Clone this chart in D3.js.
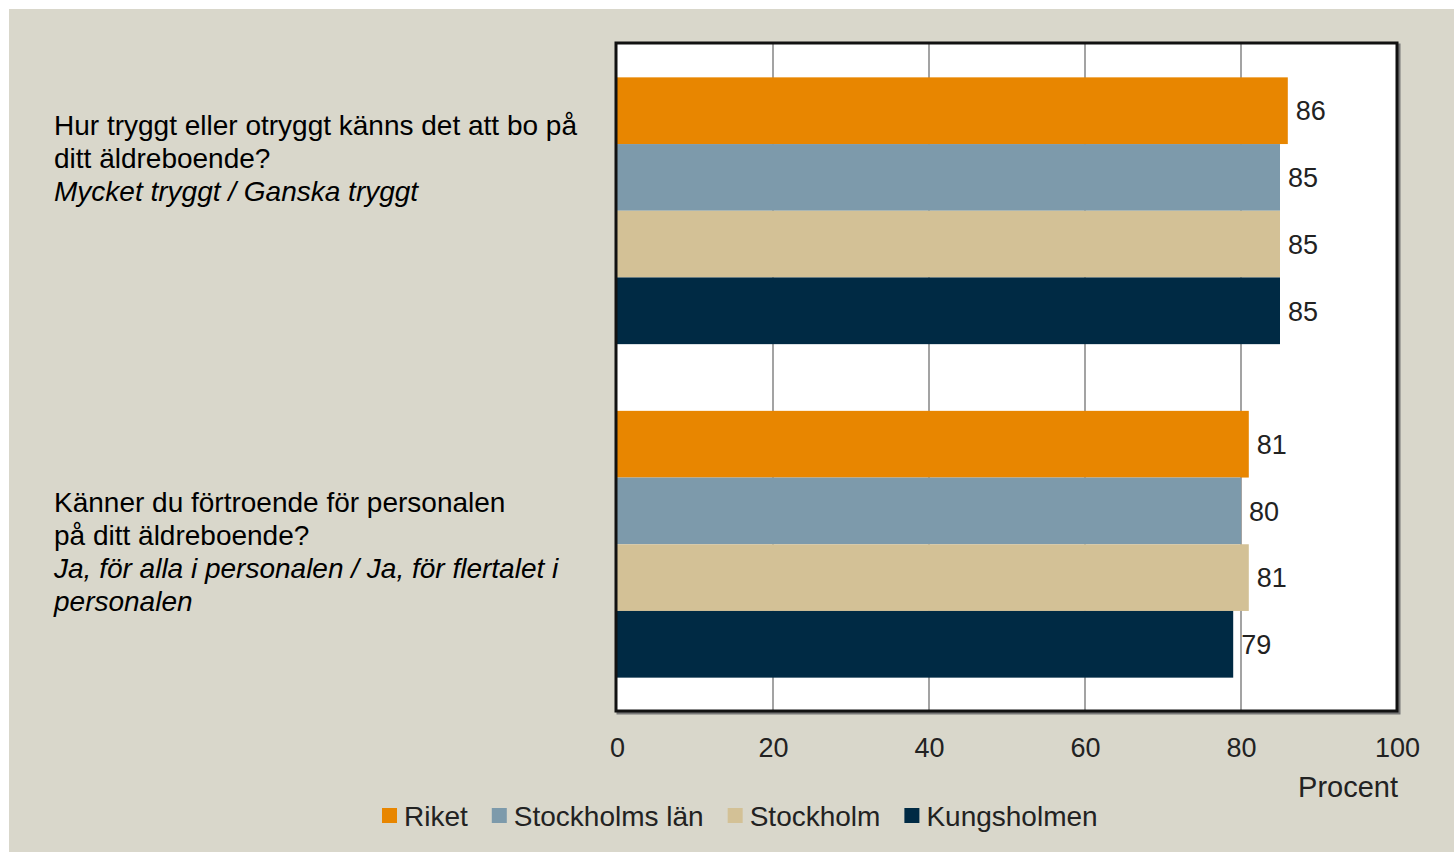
<!DOCTYPE html>
<html>
<head>
<meta charset="utf-8">
<script src="https://cdn.jsdelivr.net/npm/d3@7"></script>
<style>
  html, body { margin: 0; padding: 0; background: #ffffff; }
  svg { display: block; }
</style>
</head>
<body>
<svg id="chart" width="1454" height="852"></svg>
<script>
// ---- data ----
const categories = ["q1", "q2"];
const seriesNames = ["Riket", "Stockholms län", "Stockholm", "Kungsholmen"];
const riket = [86, 81];
const stockholmsLan = [85, 80];
const stockholm = [85, 81];
const kungsholmen = [85, 79];
const xTicks = [0, 20, 40, 60, 80, 100];
const axisTitle = "Procent";
const questionLines = [
  [{t: "Hur tryggt eller otryggt känns det att bo på", i: false},
   {t: "ditt äldreboende?", i: false},
   {t: "Mycket tryggt / Ganska tryggt", i: true}],
  [{t: "Känner du förtroende för personalen", i: false},
   {t: "på ditt äldreboende?", i: false},
   {t: "Ja, för alla i personalen / Ja, för flertalet i", i: true},
   {t: "personalen", i: true}]
];
const colors = ["#e88600", "#7d9aab", "#d3c196", "#002a44"];

const seriesValues = [riket, stockholmsLan, stockholm, kungsholmen];

// ---- layout ----
const svg = d3.select("#chart");
const plot = {left: 617, right: 1397, top: 44, bottom: 711};
const font = "'Liberation Sans', Arial, sans-serif";

svg.append("rect").attr("x", 9).attr("y", 9).attr("width", 1445).attr("height", 843)
  .attr("fill", "#d9d7cb");

const x = d3.scaleLinear().domain([0, 100]).range([plot.left, plot.right]);
const y0 = d3.scaleBand().domain(categories).range([plot.top, plot.bottom])
  .paddingInner(0.2).paddingOuter(0.1);
const y1 = d3.scaleBand().domain(seriesNames).range([0, y0.bandwidth()]).padding(0);

// frame shadow
svg.append("rect").attr("x", plot.left + 1).attr("y", plot.top + 1)
  .attr("width", plot.right - plot.left + 1).attr("height", plot.bottom - plot.top + 1)
  .attr("fill", "none").attr("stroke", "#777").attr("stroke-width", 3);

// plot background
svg.append("rect").attr("x", plot.left).attr("y", plot.top)
  .attr("width", plot.right - plot.left).attr("height", plot.bottom - plot.top)
  .attr("fill", "#ffffff");

// gridlines
svg.append("g").selectAll("line").data(xTicks.filter(d => d > 0 && d < 100)).join("line")
  .attr("x1", d => x(d)).attr("x2", d => x(d))
  .attr("y1", plot.top).attr("y2", plot.bottom)
  .attr("stroke", "#a3a3a3").attr("stroke-width", 2);

// bars
const groups = svg.append("g").selectAll("g").data(categories).join("g")
  .attr("transform", c => `translate(0,${y0(c)})`);

groups.selectAll("rect").data((c, ci) => seriesNames.map((s, si) => ({s, si, v: seriesValues[si][ci]})))
  .join("rect")
  .attr("x", x(0))
  .attr("y", d => y1(d.s))
  .attr("width", d => x(d.v) - x(0))
  .attr("height", y1.bandwidth())
  .attr("fill", d => colors[d.si]);

groups.selectAll("text").data((c, ci) => seriesNames.map((s, si) => ({s, si, v: seriesValues[si][ci]})))
  .join("text")
  .attr("x", d => x(d.v) + 8)
  .attr("y", d => y1(d.s) + y1.bandwidth() / 2)
  .attr("dy", "0.36em")
  .attr("font-family", font)
  .attr("font-size", 27)
  .attr("fill", "#222")
  .text(d => d.v);

// frame
svg.append("rect").attr("x", plot.left - 1).attr("y", plot.top - 1)
  .attr("width", plot.right - plot.left + 1).attr("height", plot.bottom - plot.top + 1)
  .attr("fill", "none").attr("stroke", "#111").attr("stroke-width", 3);

// x axis tick labels
const xAxis = d3.axisBottom(x).tickValues(xTicks).tickSize(0).tickPadding(0);
const ax = svg.append("g").attr("transform", `translate(0,${plot.bottom})`).call(xAxis);
ax.select(".domain").remove();
ax.selectAll("text")
  .attr("y", 36)
  .attr("dy", "0.36em")
  .attr("font-family", font)
  .attr("font-size", 27)
  .attr("fill", "#222");

svg.append("text").attr("x", plot.right + 1).attr("y", 787).attr("dy", "0.36em")
  .attr("text-anchor", "end")
  .attr("font-family", font)
  .attr("font-size", 29).attr("fill", "#222").text(axisTitle);

// question labels
const qBaselines = [135, 512];
questionLines.forEach((lines, qi) => {
  const t = svg.append("text")
    .attr("font-family", font)
    .attr("font-size", 28).attr("fill", "#000");
  lines.forEach((ln, li) => {
    t.append("tspan").attr("x", 54).attr("y", qBaselines[qi] + li * 33)
      .attr("font-style", ln.i ? "italic" : "normal").text(ln.t);
  });
});

// legend
const legend = svg.append("g");
let lx = 382;
const ly = 816;
seriesNames.forEach((s, i) => {
  legend.append("rect").attr("x", lx).attr("y", ly - 8).attr("width", 15).attr("height", 15)
    .attr("fill", colors[i]);
  const t = legend.append("text").attr("x", lx + 22).attr("y", ly).attr("dy", "0.36em")
    .attr("font-family", font)
    .attr("font-size", 28).attr("fill", "#222").text(s);
  lx += 22 + t.node().getComputedTextLength() + 24;
});
</script>
</body>
</html>
